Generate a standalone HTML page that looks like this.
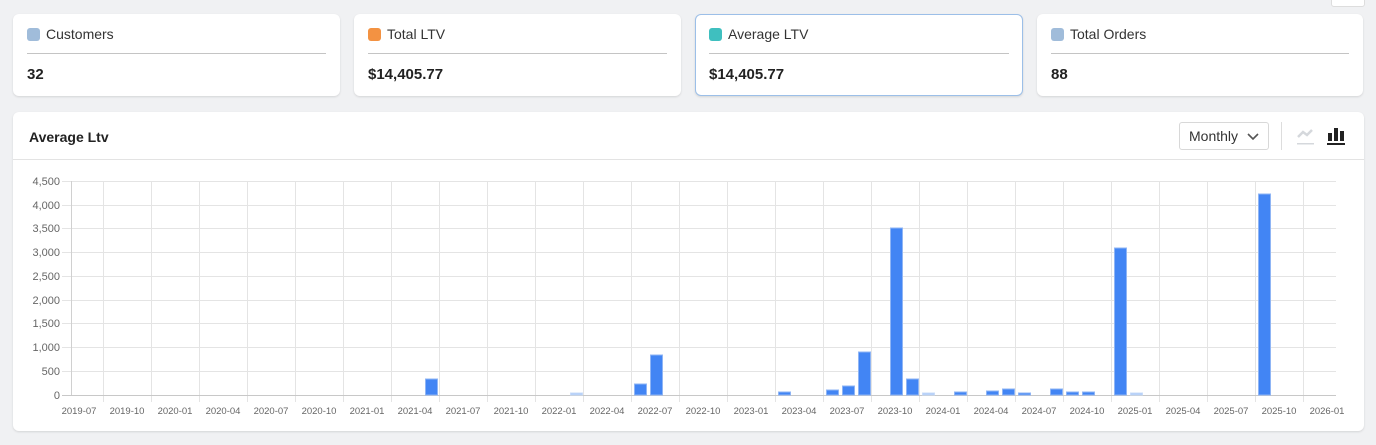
<!DOCTYPE html>
<html><head><meta charset="utf-8"><style>
body{margin:0;width:1376px;height:445px;background:#f0f1f3;font-family:"Liberation Sans",sans-serif;position:relative;overflow:hidden;color:#222}
.card{position:absolute;top:14px;height:82px;background:#fff;border-radius:6px;box-shadow:0 1px 2px rgba(0,0,0,.12);box-sizing:border-box}
.sq{position:absolute;left:14px;top:14px;width:13px;height:13px;border-radius:3px}
.lab{position:absolute;left:33px;top:12px;font-size:14px;color:#333}
.hr{position:absolute;left:14px;right:14px;top:39px;border-top:1px solid #c4c4c4}
.val{position:absolute;left:14px;top:52px;font-size:15px;font-weight:bold;color:#222}
.main{position:absolute;left:13px;top:112px;width:1351px;height:319px;background:#fff;border-radius:6px;box-shadow:0 1px 2px rgba(0,0,0,.12)}
</style></head><body>
<div style="position:absolute;left:1331px;top:-4px;width:32px;height:9px;background:#fff;border:1px solid #ddd;border-radius:3px"></div>
<div class="card" style="left:13px;width:327px"><div class="sq" style="background:#a0bcda"></div><div class="lab">Customers</div><div class="hr"></div><div class="val">32</div></div>
<div class="card" style="left:354px;width:327px"><div class="sq" style="background:#f39242"></div><div class="lab">Total LTV</div><div class="hr"></div><div class="val">$14,405.77</div></div>
<div class="card" style="left:695px;width:328px;border:1px solid #9cbfe8"><div class="sq" style="left:13px;top:13px;background:#3fbfbf"></div><div class="lab" style="left:32px;top:11px">Average LTV</div><div class="hr" style="left:13px;right:13px;top:38px"></div><div class="val" style="left:13px;top:51px">$14,405.77</div></div>
<div class="card" style="left:1037px;width:326px"><div class="sq" style="background:#a0bcda"></div><div class="lab">Total Orders</div><div class="hr"></div><div class="val">88</div></div>
<div class="main">
<div style="position:absolute;left:16px;top:17px;font-size:14px;font-weight:bold">Average Ltv</div>
<div style="position:absolute;left:0;right:0;top:47px;border-top:1px solid #e3e3e3"></div>
<div style="position:absolute;left:1166px;top:10px;width:90px;height:28px;border:1px solid #d8d8d8;border-radius:3px;box-sizing:border-box;font-size:14px;line-height:26px;padding-left:9px;color:#333">Monthly<svg style="position:absolute;right:9px;top:10px" width="12" height="8"><path d="M1 1l5 5 5-5" fill="none" stroke="#555" stroke-width="1.6"/></svg></div>
<div style="position:absolute;left:1268px;top:10px;height:28px;border-left:1px solid #ddd"></div>
<svg style="position:absolute;left:1283px;top:14px" width="20" height="20"><path d="M2 11l5-5 4 3 5-5" fill="none" stroke="#d5d8dc" stroke-width="2.5"/><rect x="1" y="17" width="17" height="1.5" fill="#d5d8dc"/></svg>
<svg style="position:absolute;left:1313px;top:14px" width="22" height="20"><rect x="2" y="7" width="4" height="8" fill="#222"/><rect x="8" y="2" width="4" height="13" fill="#222"/><rect x="14" y="5" width="4" height="10" fill="#222"/><rect x="1" y="17" width="18" height="2" fill="#222"/></svg>
</div>
<svg style="position:absolute;left:0;top:0" width="1376" height="445" font-family="Liberation Sans,sans-serif">
<g stroke="#e4e4e4" stroke-width="1">
<line x1="62" x2="1336" y1="181.5" y2="181.5"/><line x1="62" x2="1336" y1="205.5" y2="205.5"/><line x1="62" x2="1336" y1="228.5" y2="228.5"/><line x1="62" x2="1336" y1="252.5" y2="252.5"/><line x1="62" x2="1336" y1="276.5" y2="276.5"/><line x1="62" x2="1336" y1="300.5" y2="300.5"/><line x1="62" x2="1336" y1="323.5" y2="323.5"/><line x1="62" x2="1336" y1="347.5" y2="347.5"/><line x1="62" x2="1336" y1="371.5" y2="371.5"/>
<g id="v"></g>
</g>
<g stroke="#e4e4e4">
<line x1="103.5" x2="103.5" y1="181" y2="402"/><line x1="151.5" x2="151.5" y1="181" y2="402"/><line x1="199.5" x2="199.5" y1="181" y2="402"/><line x1="247.5" x2="247.5" y1="181" y2="402"/><line x1="295.5" x2="295.5" y1="181" y2="402"/><line x1="343.5" x2="343.5" y1="181" y2="402"/><line x1="391.5" x2="391.5" y1="181" y2="402"/><line x1="439.5" x2="439.5" y1="181" y2="402"/><line x1="487.5" x2="487.5" y1="181" y2="402"/><line x1="535.5" x2="535.5" y1="181" y2="402"/><line x1="583.5" x2="583.5" y1="181" y2="402"/><line x1="631.5" x2="631.5" y1="181" y2="402"/><line x1="679.5" x2="679.5" y1="181" y2="402"/><line x1="727.5" x2="727.5" y1="181" y2="402"/><line x1="775.5" x2="775.5" y1="181" y2="402"/><line x1="823.5" x2="823.5" y1="181" y2="402"/><line x1="871.5" x2="871.5" y1="181" y2="402"/><line x1="919.5" x2="919.5" y1="181" y2="402"/><line x1="967.5" x2="967.5" y1="181" y2="402"/><line x1="1015.5" x2="1015.5" y1="181" y2="402"/><line x1="1063.5" x2="1063.5" y1="181" y2="402"/><line x1="1111.5" x2="1111.5" y1="181" y2="402"/><line x1="1159.5" x2="1159.5" y1="181" y2="402"/><line x1="1207.5" x2="1207.5" y1="181" y2="402"/><line x1="1255.5" x2="1255.5" y1="181" y2="402"/><line x1="1303.5" x2="1303.5" y1="181" y2="402"/>
</g>
<line x1="71.5" x2="71.5" y1="181" y2="395" stroke="#d0d0d0"/>
<line x1="62" x2="1336" y1="395.5" y2="395.5" stroke="#c8c8c8"/>
<g fill="#666" font-size="11" text-anchor="end">
<text x="60" y="185">4,500</text><text x="60" y="209">4,000</text><text x="60" y="232">3,500</text><text x="60" y="256">3,000</text><text x="60" y="280">2,500</text><text x="60" y="304">2,000</text><text x="60" y="327">1,500</text><text x="60" y="351">1,000</text><text x="60" y="375">500</text><text x="60" y="399">0</text>
</g>
<g fill="#666" font-size="9.5" text-anchor="middle">
<text x="79" y="414">2019-07</text><text x="127" y="414">2019-10</text><text x="175" y="414">2020-01</text><text x="223" y="414">2020-04</text><text x="271" y="414">2020-07</text><text x="319" y="414">2020-10</text><text x="367" y="414">2021-01</text><text x="415" y="414">2021-04</text><text x="463" y="414">2021-07</text><text x="511" y="414">2021-10</text><text x="559" y="414">2022-01</text><text x="607" y="414">2022-04</text><text x="655" y="414">2022-07</text><text x="703" y="414">2022-10</text><text x="751" y="414">2023-01</text><text x="799" y="414">2023-04</text><text x="847" y="414">2023-07</text><text x="895" y="414">2023-10</text><text x="943" y="414">2024-01</text><text x="991" y="414">2024-04</text><text x="1039" y="414">2024-07</text><text x="1087" y="414">2024-10</text><text x="1135" y="414">2025-01</text><text x="1183" y="414">2025-04</text><text x="1231" y="414">2025-07</text><text x="1279" y="414">2025-10</text><text x="1327" y="414">2026-01</text>
</g>
<g fill="#4285f4" stroke="#8fb5f5" stroke-width="1">
<rect x="425.5" y="379" width="12" height="16"/>
<rect x="634.5" y="384" width="12" height="11"/>
<rect x="650.5" y="355" width="12" height="40"/>
<rect x="778.5" y="392" width="12" height="3"/>
<rect x="826.5" y="390" width="12" height="5"/>
<rect x="842.5" y="386" width="12" height="9"/>
<rect x="858.5" y="352" width="12" height="43"/>
<rect x="890.5" y="228" width="12" height="167"/>
<rect x="906.5" y="379" width="12" height="16"/>
<rect x="954.5" y="392" width="12" height="3"/>
<rect x="986.5" y="391" width="12" height="4"/>
<rect x="1002.5" y="389" width="12" height="6"/>
<rect x="1018.5" y="393" width="12" height="2"/>
<rect x="1050.5" y="389" width="12" height="6"/>
<rect x="1066.5" y="392" width="12" height="3"/>
<rect x="1082.5" y="392" width="12" height="3"/>
<rect x="1114.5" y="248" width="12" height="147"/>
<rect x="1258.5" y="194" width="12" height="201"/>
</g>
<g fill="#a9c8f7" stroke="#c9dcf9">
<rect x="570.5" y="393" width="12" height="2"/>
<rect x="922.5" y="393" width="12" height="2"/>
<rect x="1130.5" y="393" width="12" height="2"/>
</g>
</svg>
</body></html>
